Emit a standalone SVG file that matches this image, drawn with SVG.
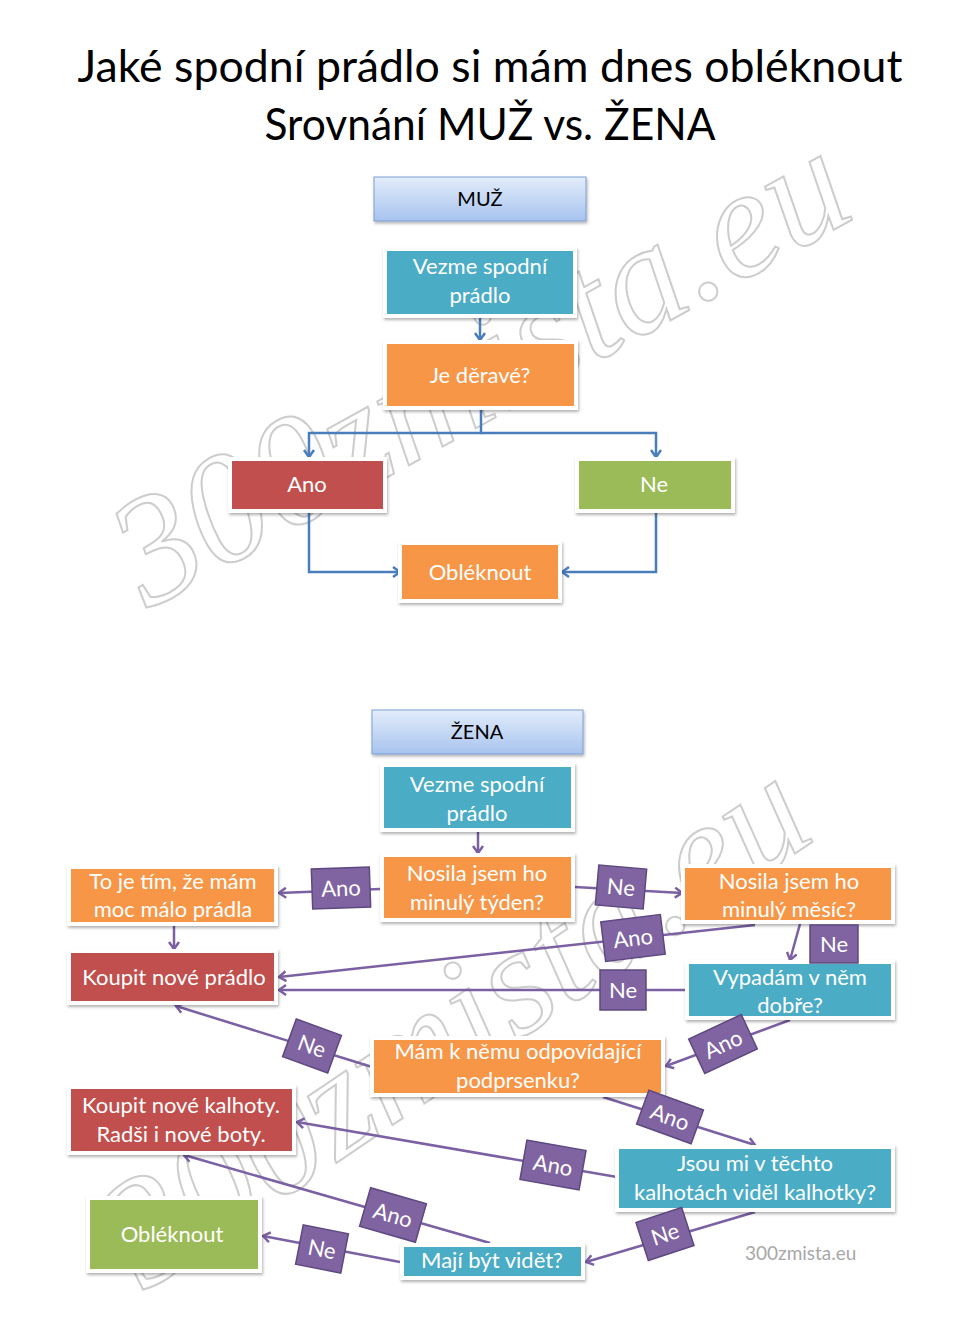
<svg xmlns="http://www.w3.org/2000/svg" width="974" height="1330" viewBox="0 0 974 1330">
<defs>
<linearGradient id="hdr" x1="0" y1="0" x2="0" y2="1">
<stop offset="0" stop-color="#e3edfb"/>
<stop offset="1" stop-color="#a7c3ee"/>
</linearGradient>
<filter id="sh" x="-10%" y="-10%" width="125%" height="135%">
<feDropShadow dx="1" dy="2" stdDeviation="1.5" flood-color="#000" flood-opacity="0.3"/>
</filter>
<marker id="ab" markerUnits="userSpaceOnUse" markerWidth="14" markerHeight="14" refX="9" refY="6" orient="auto">
<path d="M2,1 L9,6 L2,11" fill="none" stroke="#4a7ebb" stroke-width="2.5"/>
</marker>
<marker id="ap" markerUnits="userSpaceOnUse" markerWidth="14" markerHeight="14" refX="9" refY="6" orient="auto">
<path d="M2,1 L9,6 L2,11" fill="none" stroke="#7b61a4" stroke-width="2.5"/>
</marker>
</defs>
<style>
.t{font-family:Lato,"Open Sans","Liberation Sans",sans-serif;text-anchor:middle;}
.title{font-size:44px;fill:#000;}
.nt{font-size:22px;fill:#fff;}
.ht{font-size:20px;fill:#000;}
.box{stroke:#fff;stroke-width:4;filter:url(#sh);}
.hdr{fill:url(#hdr);stroke:#7d9fd3;stroke-width:1;filter:url(#sh);}
.teal{fill:#4bacc6;}
.orange{fill:#f79646;}
.red{fill:#c0504d;}
.green{fill:#9bbb59;}
.lb{fill:#8064a2;stroke:#5d4880;stroke-width:1.5;}
.lt{font-size:22px;fill:#fff;}
.cb{fill:none;stroke:#4a7ebb;stroke-width:2.5;marker-end:url(#ab);}
.cp{fill:none;stroke:#7b61a4;stroke-width:2.5;marker-end:url(#ap);}
.wm{font-family:"Liberation Serif",serif;font-style:italic;font-size:155px;fill:none;stroke:#cdcdcd;stroke-width:2;}
</style>
<rect width="974" height="1330" fill="#fff"/>
<g id="watermarks">
<text class="wm" transform="translate(148,610) rotate(-29)">300zmista.eu</text>
<text class="wm" transform="translate(145,1292) rotate(-34)">300zmista.eu</text>
</g>
<g id="title">
<text class="t title" x="490" y="82" textLength="825" lengthAdjust="spacingAndGlyphs">Jaké spodní prádlo si mám dnes obléknout</text>
<text class="t title" x="490" y="140" textLength="451" lengthAdjust="spacingAndGlyphs">Srovnání MUŽ vs. ŽENA</text>
</g>
<g id="connectors">
<path class="cb" d="M480,318 V340"/>
<path class="cb" d="M481,410 V433 H309 V457"/>
<path class="cb" d="M481,433 H656 V457"/>
<path class="cb" d="M309,513 V572 H400"/>
<path class="cb" d="M656,513 V572 H562"/>
<path class="cp" d="M478,832 V853"/>
<path class="cp" d="M380,889 L279,893"/>
<path class="cp" d="M575,887 L682,893"/>
<path class="cp" d="M174,926 V949"/>
<path class="cp" d="M755,925 L279,977"/>
<path class="cp" d="M800,924 L790,960"/>
<path class="cp" d="M685,990 L279,990"/>
<path class="cp" d="M790,1020 L666,1066"/>
<path class="cp" d="M372,1067 L176,1006"/>
<path class="cp" d="M603,1097 L755,1145"/>
<path class="cp" d="M617,1177 L297,1122"/>
<path class="cp" d="M755,1212 L586,1262"/>
<path class="cp" d="M490,1243 L184,1155"/>
<path class="cp" d="M400,1262 L263,1236"/>
</g>
<g id="muz">
<rect class="hdr" x="374" y="177" width="212" height="44"/>
<text class="t ht" x="480" y="206">MUŽ</text>
</g>
<g id="vezme1">
<rect class="box teal" x="385" y="249" width="190" height="67"/>
<text class="t nt" x="480" y="274">Vezme spodní</text>
<text class="t nt" x="480" y="303">prádlo</text>
</g>
<g id="jederave">
<rect class="box orange" x="385" y="342" width="191" height="66"/>
<text class="t nt" x="480" y="383">Je děravé?</text>
</g>
<g id="ano1">
<rect class="box red" x="230" y="459" width="155" height="52"/>
<text class="t nt" x="307" y="492">Ano</text>
</g>
<g id="ne1">
<rect class="box green" x="577" y="459" width="156" height="52"/>
<text class="t nt" x="654" y="492">Ne</text>
</g>
<g id="obleknout1">
<rect class="box orange" x="400" y="543" width="160" height="58"/>
<text class="t nt" x="480" y="580">Obléknout</text>
</g>
<g id="zena">
<rect class="hdr" x="372" y="710" width="211" height="44"/>
<text class="t ht" x="477" y="739">ŽENA</text>
</g>
<g id="vezme2">
<rect class="box teal" x="382" y="765" width="191" height="65"/>
<text class="t nt" x="477" y="792">Vezme spodní</text>
<text class="t nt" x="477" y="821">prádlo</text>
</g>
<g id="tyden">
<rect class="box orange" x="382" y="855" width="191" height="65"/>
<text class="t nt" x="477" y="881">Nosila jsem ho</text>
<text class="t nt" x="477" y="910">minulý týden?</text>
</g>
<g id="toje">
<rect class="box orange" x="69" y="867" width="207" height="57"/>
<text class="t nt" x="173" y="889">To je tím, že mám</text>
<text class="t nt" x="173" y="917">moc málo prádla</text>
</g>
<g id="koupitpradlo">
<rect class="box red" x="69" y="951" width="207" height="52"/>
<text class="t nt" x="174" y="985">Koupit nové prádlo</text>
</g>
<g id="mesic">
<rect class="box orange" x="683" y="866" width="210" height="56"/>
<text class="t nt" x="789" y="889">Nosila jsem ho</text>
<text class="t nt" x="789" y="917">minulý měsíc?</text>
</g>
<g id="vypadam">
<rect class="box teal" x="687" y="962" width="206" height="56"/>
<text class="t nt" x="790" y="985">Vypadám v něm</text>
<text class="t nt" x="790" y="1013">dobře?</text>
</g>
<g id="mam">
<rect class="box orange" x="372" y="1038" width="291" height="57"/>
<text class="t nt" x="518" y="1059">Mám k němu odpovídající</text>
<text class="t nt" x="518" y="1088">podprsenku?</text>
</g>
<g id="kalhoty">
<rect class="box red" x="69" y="1087" width="225" height="66"/>
<text class="t nt" x="181" y="1113">Koupit nové kalhoty.</text>
<text class="t nt" x="181" y="1142">Radši i nové boty.</text>
</g>
<g id="jsou">
<rect class="box teal" x="617" y="1147" width="276" height="63"/>
<text class="t nt" x="755" y="1171">Jsou mi v těchto</text>
<text class="t nt" x="755" y="1200">kalhotách viděl kalhotky?</text>
</g>
<g id="maji">
<rect class="box teal" x="402" y="1245" width="181" height="33"/>
<text class="t nt" x="492" y="1268">Mají být vidět?</text>
</g>
<g id="obleknout2">
<rect class="box green" x="88" y="1198" width="172" height="73"/>
<text class="t nt" x="172" y="1242">Obléknout</text>
</g>
<g id="labels">
<g transform="translate(341,888) rotate(-2)"><rect class="lb" x="-29" y="-20" width="58" height="40"/><text class="t lt" y="8">Ano</text></g>
<g transform="translate(621,887) rotate(5)"><rect class="lb" x="-24" y="-20" width="48" height="40"/><text class="t lt" y="8">Ne</text></g>
<g transform="translate(633,938) rotate(-7)"><rect class="lb" x="-30" y="-20" width="60" height="40"/><text class="t lt" y="8">Ano</text></g>
<g transform="translate(834,944)"><rect class="lb" x="-24" y="-19" width="48" height="38"/><text class="t lt" y="8">Ne</text></g>
<g transform="translate(623,990)"><rect class="lb" x="-23" y="-20" width="46" height="40"/><text class="t lt" y="8">Ne</text></g>
<g transform="translate(723,1044) rotate(-25)"><rect class="lb" x="-29" y="-19" width="58" height="38"/><text class="t lt" y="8">Ano</text></g>
<g transform="translate(312,1046) rotate(20)"><rect class="lb" x="-24" y="-20" width="48" height="40"/><text class="t lt" y="8">Ne</text></g>
<g transform="translate(670,1117) rotate(20)"><rect class="lb" x="-29" y="-18" width="58" height="36"/><text class="t lt" y="8">Ano</text></g>
<g transform="translate(553,1165) rotate(10)"><rect class="lb" x="-30" y="-20" width="60" height="40"/><text class="t lt" y="8">Ano</text></g>
<g transform="translate(665,1234) rotate(-18)"><rect class="lb" x="-24" y="-20" width="48" height="40"/><text class="t lt" y="8">Ne</text></g>
<g transform="translate(393,1215) rotate(16)"><rect class="lb" x="-29" y="-20" width="58" height="40"/><text class="t lt" y="8">Ano</text></g>
<g transform="translate(322,1249) rotate(11)"><rect class="lb" x="-23" y="-20" width="46" height="40"/><text class="t lt" y="8">Ne</text></g>
</g>
<text id="credit" x="745" y="1260" font-family="Lato,'Open Sans',sans-serif" font-size="19" fill="#a8a8a8">300zmista.eu</text>
</svg>
